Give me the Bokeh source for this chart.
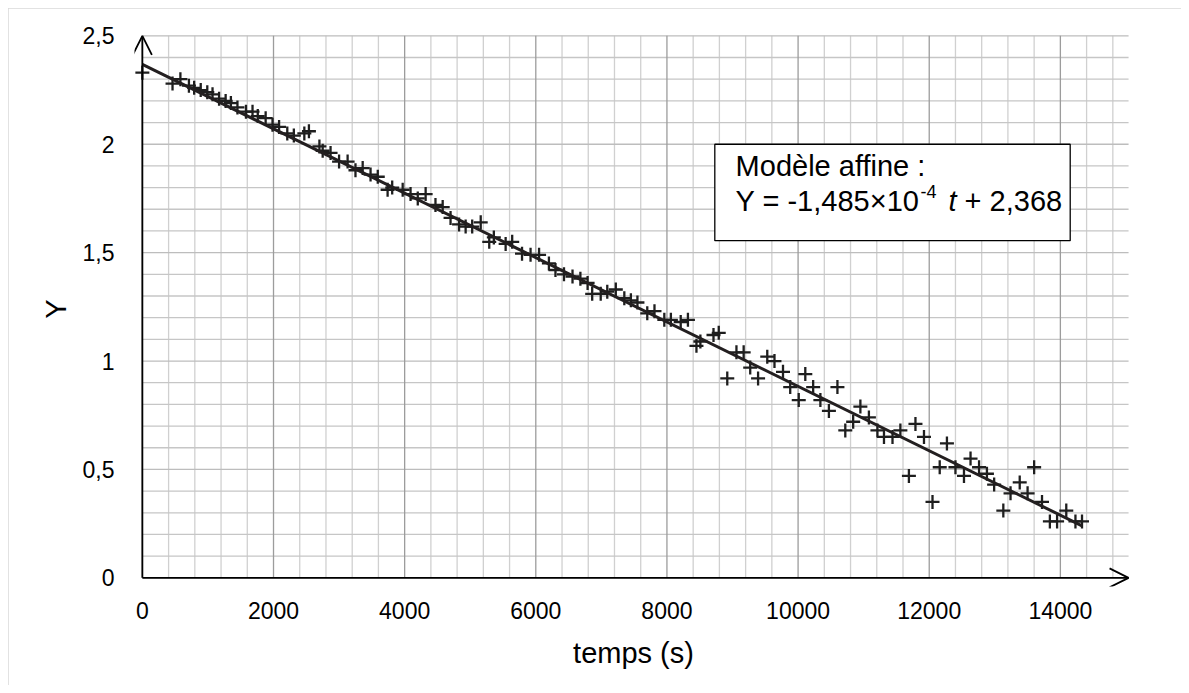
from bokeh.plotting import figure
from bokeh.models import (Range1d, FixedTicker, Arrow, OpenHead, BoxAnnotation,
                          Label, ColumnDataSource, CustomJSTickFormatter)
from bokeh.embed import file_html
from bokeh.resources import INLINE

# ---------------- data ----------------
t_s = [0, 460, 580, 710, 790, 890, 990, 1070, 1170, 1270, 1350, 1450, 1580, 1680,
       1760, 1880, 1985, 2085, 2210, 2310, 2470, 2540, 2700, 2750, 2870, 3000, 3130,
       3250, 3360, 3480, 3590, 3740, 3810, 3970, 4090, 4200, 4320, 4470, 4580, 4700,
       4830, 4930, 5030, 5160, 5290, 5360, 5540, 5640, 5790, 5920, 6050, 6200, 6300,
       6430, 6560, 6680, 6790, 6860, 6990, 7090, 7220, 7350, 7450, 7550, 7700, 7810,
       7960, 8060, 8210, 8320, 8450, 8510, 8710, 8790, 8920, 9060, 9170, 9270, 9390,
       9530, 9640, 9770, 9880, 10010, 10110, 10230, 10340, 10470, 10600, 10720, 10840,
       10950, 11080, 11210, 11310, 11440, 11560, 11690, 11790, 11920, 12050, 12160,
       12270, 12400, 12530, 12630, 12760, 12880, 12990, 13130, 13240, 13380, 13500,
       13600, 13720, 13840, 13950, 14090, 14230, 14330]
Y_vals = [2.33, 2.28, 2.30, 2.27, 2.26, 2.25, 2.24, 2.23, 2.21, 2.20, 2.19, 2.17, 2.15, 2.15,
          2.13, 2.12, 2.09, 2.08, 2.05, 2.04, 2.05, 2.06, 1.99, 1.97, 1.96, 1.92, 1.92,
          1.88, 1.89, 1.86, 1.85, 1.79, 1.80, 1.79, 1.77, 1.75, 1.77, 1.72, 1.71, 1.66,
          1.63, 1.62, 1.62, 1.64, 1.55, 1.57, 1.54, 1.55, 1.495, 1.49, 1.49, 1.45, 1.42,
          1.40, 1.39, 1.38, 1.36, 1.31, 1.31, 1.32, 1.33, 1.29, 1.28, 1.27, 1.22, 1.23,
          1.19, 1.19, 1.18, 1.19, 1.07, 1.09, 1.12, 1.13, 0.92, 1.04, 1.04, 0.97, 0.92,
          1.02, 1.00, 0.95, 0.88, 0.82, 0.94, 0.88, 0.82, 0.77, 0.88, 0.68, 0.72,
          0.79, 0.74, 0.68, 0.65, 0.65, 0.68, 0.47, 0.71, 0.65, 0.35, 0.51,
          0.62, 0.51, 0.47, 0.55, 0.51, 0.48, 0.43, 0.31, 0.39, 0.44, 0.39,
          0.51, 0.35, 0.26, 0.26, 0.31, 0.26, 0.26]

# affine model shown in the box
slope = -1.485e-4
intercept = 2.368
fit_t = [0, 14330]
fit_Y = [intercept + slope * t for t in fit_t]

x_ticks = [0, 2000, 4000, 6000, 8000, 10000, 12000, 14000]
x_minor = [v for v in range(0, 15000, 400) if v % 2000 != 0]
y_ticks = [0, 0.5, 1, 1.5, 2, 2.5]
y_minor = [i / 10 for i in range(0, 26) if i % 5 != 0]

X_MAX = 15040   # end of the time axis (arrow tip)
Y_MAX = 2.5     # end of the Y axis (arrow tip)
FONT = "Liberation Sans"
FS_TICK = "23px"
FS_LABEL = "29px"
FS_BOX = "29px"

p = figure(width=1173, height=677,
           x_range=Range1d(-120, 15100), y_range=Range1d(-0.04, 2.52),
           output_backend="svg", toolbar_location=None,
           min_border_left=126, min_border_right=49, min_border_top=23, min_border_bottom=99)
p.margin = (8, 8, 8, 8)
p.outline_line_color = None
p.background_fill_color = "white"
p.border_fill_color = "white"
p.styles = {"outline": "1px solid #d9d9d9", "outline-offset": "-1px"}
p.xgrid.visible = False
p.ygrid.visible = False

# grid drawn from the tick lists, limited to the axes' extent
p.segment(x0=x_minor, y0=[0] * len(x_minor), x1=x_minor, y1=[Y_MAX] * len(x_minor),
          line_color="#d0d0d0", line_width=1.3)
p.segment(x0=[0] * len(y_minor), y0=y_minor, x1=[X_MAX] * len(y_minor), y1=y_minor,
          line_color="#c6c6c6", line_width=1.3)
p.segment(x0=[0] * len(y_ticks), y0=y_ticks, x1=[X_MAX] * len(y_ticks), y1=y_ticks,
          line_color="#bdbdbd", line_width=1.3)
p.segment(x0=x_ticks, y0=[0] * len(x_ticks), x1=x_ticks, y1=[Y_MAX] * len(x_ticks),
          line_color="#9c9c9c", line_width=1.3)

# axes (labels only; axis lines are drawn as arrows)
p.xaxis.ticker = FixedTicker(ticks=x_ticks)
p.yaxis.ticker = FixedTicker(ticks=y_ticks)
p.yaxis.formatter = CustomJSTickFormatter(code="return tick.toString().replace('.', ',');")
for ax in (p.xaxis[0], p.yaxis[0]):
    ax.axis_line_color = None
    ax.major_tick_line_color = None
    ax.minor_tick_line_color = None
    ax.major_tick_out = 0
    ax.major_tick_in = 0
    ax.minor_tick_out = 0
    ax.major_label_text_font = FONT
    ax.major_label_text_font_size = FS_TICK
    ax.major_label_text_color = "black"
    ax.axis_label_text_font = FONT
    ax.axis_label_text_font_size = FS_LABEL
    ax.axis_label_text_font_style = "normal"
    ax.axis_label_text_color = "black"
p.xaxis.axis_label = "temps (s)"
p.yaxis.axis_label = "Y"
p.xaxis.major_label_standoff = 15
p.xaxis.axis_label_standoff = 15
p.yaxis.major_label_standoff = 20
p.yaxis.axis_label_standoff = 8

# axis arrows
p.add_layout(Arrow(end=OpenHead(size=19, line_width=1.8, line_color="black"),
                   x_start=0, y_start=0, x_end=X_MAX, y_end=0,
                   line_width=1.8, line_color="black"))
p.add_layout(Arrow(end=OpenHead(size=19, line_width=1.8, line_color="black"),
                   x_start=0, y_start=0, x_end=0, y_end=Y_MAX,
                   line_width=1.8, line_color="black"))

# data and model
src = ColumnDataSource(dict(t=t_s, Y=Y_vals))
p.scatter("t", "Y", source=src, marker="cross", size=14, line_width=2.3, color="#1e1e1e")
p.line(fit_t, fit_Y, line_width=3, color="#231f20")

# model box
p.add_layout(BoxAnnotation(left=8730, right=14150, bottom=1.555, top=2.0,
                           fill_color="white", fill_alpha=1,
                           line_color="black", line_alpha=1, line_width=1.3))
common = dict(text_font=FONT, text_font_size=FS_BOX, text_color="black", text_baseline="middle")
p.add_layout(Label(x=9047, y=1.900, text="Modèle affine :", **common))
p.add_layout(Label(x=9047, y=1.739, text="Y = -1,485×10", **common))
p.add_layout(Label(x=9047, y=1.739, x_offset=185, y_offset=9, text="-4",
                   text_font=FONT, text_font_size="18px", text_color="black",
                   text_baseline="middle"))
p.add_layout(Label(x=9047, y=1.739, x_offset=213, text="t", text_font_style="italic", **common))
p.add_layout(Label(x=9047, y=1.739, x_offset=229, text="+ 2,368", **common))

open("out.html", "w").write(file_html(p, INLINE))
